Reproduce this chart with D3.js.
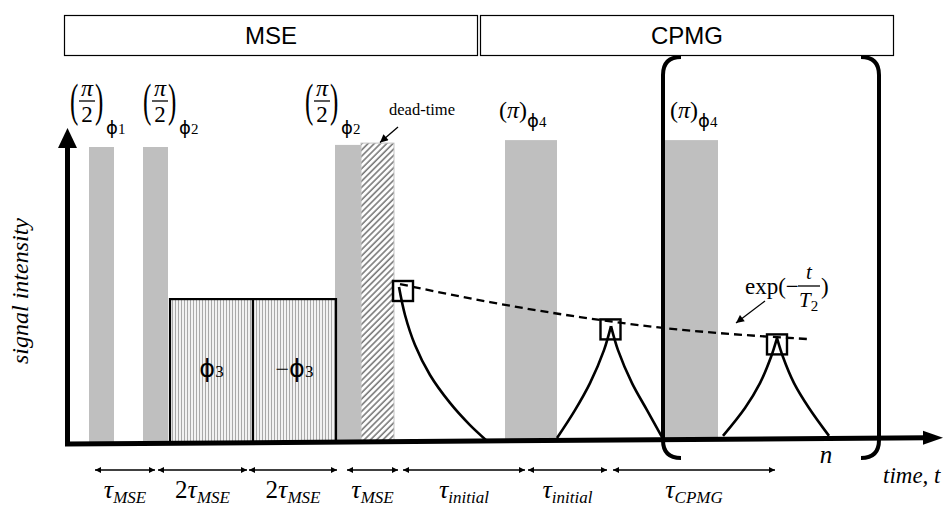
<!DOCTYPE html>
<html><head><meta charset="utf-8">
<script src="https://cdn.jsdelivr.net/npm/d3@7"></script>
<style>html,body{margin:0;padding:0;background:#fff;} svg{display:block;}</style>
</head><body>
<svg id="c" width="946" height="509"></svg>
<script>
// ================= DATA (time in arbitrary units, intensity in %) =================
const phaseNames = ["MSE", "CPMG"];
const phaseStart = [-3, 413];
const phaseEnd   = [410, 826];

// RF pulses
const pulseKind  = ["half", "half", "half", "pi", "pi"];
const pulsePhase = ["1", "2", "2", "4", "4"];
const pulseStart = [22, 76, 268, 438, 598];
const pulseEnd   = [47, 101, 294, 490, 651];
const pulseAmp   = [99, 99, 99.7, 101.3, 101.3];

// phase-cycled blocks
const blockSign  = ["", "\u2212"];
const blockStart = [103, 186];
const blockEnd   = [186, 269];
const blockAmp   = [48.3, 48.3];

// dead time
const deadStart = 294, deadEnd = 327, deadAmp = 100.3;

// echo signal branches [t, intensity]
const echoBranches = [
  [[332, 52.3], [338, 43], [348, 33], [363, 23], [383, 13.7], [403, 6.3], [420, 1]],
  [[544, 39.3], [537, 31.3], [523, 20.3], [508, 11.3], [490, 2]],
  [[544, 39.3], [551, 31.3], [565, 20.3], [580, 11.3], [595, 2.3]],
  [[710, 35.3], [704, 29], [693, 20.3], [678, 12], [656, 2.7]],
  [[710, 35.3], [716, 29], [727, 20.3], [742, 12], [762, 2.7]]
];
const echoTops = [[336, 51], [543.5, 38.2], [710, 33.2]];
// T2 decay envelope
const decayT = [333, 423, 513, 596, 651, 740];
const decayV = [53.3, 47.3, 42.3, 38.7, 37, 35];

// timing intervals
const intervalStart = [28, 91, 182, 280, 336, 461, 546];
const intervalEnd   = [88, 180, 270, 331, 458, 540, 708];
const intervalCoef  = ["", "2", "2", "", "", "", ""];
const intervalSub   = ["MSE", "MSE", "MSE", "MSE", "initial", "initial", "CPMG"];

// CPMG loop
const loopStart = 596, loopEnd = 812, loopLabel = "n";

// ================= LAYOUT =================
const svg = d3.select("#c");
const x = d3.scaleLinear().domain([0, 874]).range([67, 941]);
const y = d3.scaleLinear().domain([0, 100]).range([444, 144]);
const drift = d3.scaleLinear().domain([0, 874]).range([0, 2.1]);
const base = t => y(drift(t));
const pulseLabelDx = [-19, 0, -30, -6, 5];
const SERIF = "'Liberation Serif','DejaVu Serif',serif";
const SANS = "'Liberation Sans',Arial,sans-serif";
const PHI = "'DejaVu Sans',sans-serif";
const GRAY = "#bfbfbf";

const defs = svg.append("defs");
const vh = defs.append("pattern").attr("id", "vh").attr("width", 3).attr("height", 10)
  .attr("patternUnits", "userSpaceOnUse");
vh.append("rect").attr("width", 3).attr("height", 10).attr("fill", "#fff");
vh.append("line").attr("x1", 1.5).attr("x2", 1.5).attr("y1", 0).attr("y2", 10)
  .attr("stroke", "#a9a9a9").attr("stroke-width", 1.3);
const dh = defs.append("pattern").attr("id", "dh").attr("width", 4.4).attr("height", 10)
  .attr("patternUnits", "userSpaceOnUse").attr("patternTransform", "rotate(45)");
dh.append("rect").attr("width", 4.4).attr("height", 10).attr("fill", "#fff");
dh.append("line").attr("x1", 1).attr("x2", 1).attr("y1", 0).attr("y2", 10)
  .attr("stroke", "#7a7a7a").attr("stroke-width", 1.6);
defs.append("marker").attr("id", "ah").attr("viewBox", "0 0 10 10").attr("refX", 10).attr("refY", 5)
  .attr("markerWidth", 7).attr("markerHeight", 6).attr("markerUnits", "userSpaceOnUse")
  .attr("orient", "auto-start-reverse")
  .append("path").attr("d", "M0,0 L10,5 L0,10 Z").attr("fill", "#000");
defs.append("marker").attr("id", "ah2").attr("viewBox", "0 0 10 10").attr("refX", 10).attr("refY", 5)
  .attr("markerWidth", 9).attr("markerHeight", 8).attr("markerUnits", "userSpaceOnUse")
  .attr("orient", "auto")
  .append("path").attr("d", "M0,0 L10,5 L0,10 Z").attr("fill", "#000");

// phase boxes
phaseNames.forEach((n, i) => {
  svg.append("rect").attr("x", x(phaseStart[i]) + 0.5).attr("y", 15.5)
    .attr("width", x(phaseEnd[i]) - x(phaseStart[i])).attr("height", 40)
    .attr("fill", "#fff").attr("stroke", "#000").attr("stroke-width", 1.2);
  svg.append("text").attr("x", (x(phaseStart[i]) + x(phaseEnd[i])) / 2 + 0.5).attr("y", 43.5)
    .attr("text-anchor", "middle").attr("font-family", SANS).attr("font-size", 24).text(n);
});

// pulses
pulseStart.forEach((s, i) => {
  svg.append("rect").attr("x", x(s)).attr("y", y(pulseAmp[i]))
    .attr("width", x(pulseEnd[i]) - x(s)).attr("height", base(s) - y(pulseAmp[i]))
    .attr("fill", GRAY);
});
// blocks
blockStart.forEach((s, i) => {
  svg.append("rect").attr("x", x(s)).attr("y", y(blockAmp[i]))
    .attr("width", x(blockEnd[i]) - x(s)).attr("height", base(s) - y(blockAmp[i]))
    .attr("fill", "url(#vh)").attr("stroke", "#000").attr("stroke-width", 2.2);
  const t = svg.append("text").attr("x", (x(s) + x(blockEnd[i])) / 2).attr("y", y(blockAmp[i] / 2) + 5)
    .attr("text-anchor", "middle").attr("font-family", SERIF);
  if (blockSign[i]) t.append("tspan").attr("font-size", 24).text(blockSign[i]);
  t.append("tspan").attr("font-family", PHI).attr("font-size", 24).text("\u03D5");
  t.append("tspan").attr("font-size", 17).text("3");
});
// dead time
svg.append("rect").attr("x", x(deadStart)).attr("y", y(deadAmp))
  .attr("width", x(deadEnd) - x(deadStart)).attr("height", base(deadStart) - y(deadAmp))
  .attr("fill", "url(#dh)").attr("stroke", "#c4c4c4").attr("stroke-width", 1);
svg.append("text").attr("x", 389).attr("y", 115).attr("font-family", SERIF).attr("font-size", 16.5).text("dead-time");
svg.append("line").attr("x1", 398).attr("y1", 127).attr("x2", 380).attr("y2", 142.5)
  .attr("stroke", "#000").attr("stroke-width", 1.3).attr("marker-end", "url(#ah2)");

// pulse labels
function parenText(g, px, txt) {
  g.append("text").attr("transform", `translate(${px},116) scale(1,1.9)`)
    .attr("font-family", SERIF).attr("font-size", 25).text(txt);
}
pulseStart.forEach((s, i) => {
  const L = x(s) + pulseLabelDx[i];
  const g = svg.append("g");
  if (pulseKind[i] === "half") {
    parenText(g, L, "(");
    g.append("text").attr("x", L + 17).attr("y", 96).attr("text-anchor", "middle")
      .attr("font-family", SERIF).attr("font-style", "italic").attr("font-size", 24).text("\u03C0");
    g.append("line").attr("x1", L + 9).attr("x2", L + 25).attr("y1", 101).attr("y2", 101)
      .attr("stroke", "#000").attr("stroke-width", 1.3);
    g.append("text").attr("x", L + 17).attr("y", 122).attr("text-anchor", "middle")
      .attr("font-family", SERIF).attr("font-size", 23).text("2");
    parenText(g, L + 25, ")");
    const sub = g.append("text").attr("x", L + 36).attr("y", 134).attr("font-family", SERIF);
    sub.append("tspan").attr("font-family", PHI).attr("font-size", 18).text("\u03D5");
    sub.append("tspan").attr("font-size", 15).text(pulsePhase[i]);
  } else {
    const t = g.append("text").attr("x", L).attr("y", 118).attr("font-family", SERIF);
    t.append("tspan").attr("font-size", 24).text("(");
    t.append("tspan").attr("font-size", 24).attr("font-style", "italic").text("\u03C0");
    t.append("tspan").attr("font-size", 24).text(")");
    t.append("tspan").attr("font-family", PHI).attr("font-size", 18).attr("dy", 9).text("\u03D5");
    t.append("tspan").attr("font-size", 15).text(pulsePhase[i]);
  }
});

// echoes
const echoLine = d3.line().x(d => x(d[0])).y(d => y(d[1])).curve(d3.curveCatmullRom.alpha(0.5));
echoBranches.forEach(b => {
  svg.append("path").attr("d", echoLine(b)).attr("fill", "none").attr("stroke", "#000").attr("stroke-width", 2.6);
});
echoTops.forEach(p => {
  svg.append("rect").attr("x", x(p[0]) - 10).attr("y", y(p[1]) - 10).attr("width", 20).attr("height", 20)
    .attr("fill", "none").attr("stroke", "#000").attr("stroke-width", 2.4);
});
const decayLine = d3.line().x((d, i) => x(decayT[i])).y((d, i) => y(decayV[i])).curve(d3.curveMonotoneX);
svg.append("path").attr("d", decayLine(decayT)).attr("fill", "none").attr("stroke", "#000")
  .attr("stroke-width", 2.3).attr("stroke-dasharray", "8,5");

// exp label
const eg = svg.append("g").attr("font-family", SERIF);
eg.append("text").attr("x", 745).attr("y", 294).attr("font-size", 23).text("exp(\u2212");
eg.append("text").attr("x", 809).attr("y", 279).attr("text-anchor", "middle").attr("font-size", 21)
  .attr("font-style", "italic").text("t");
eg.append("line").attr("x1", 798).attr("x2", 820).attr("y1", 286).attr("y2", 286).attr("stroke", "#000").attr("stroke-width", 1.3);
const T2 = eg.append("text").attr("x", 799).attr("y", 307).attr("font-size", 21);
T2.append("tspan").attr("font-style", "italic").text("T");
T2.append("tspan").attr("font-size", 15).attr("dy", 4).text("2");
eg.append("text").attr("x", 821).attr("y", 294).attr("font-size", 23).text(")");
svg.append("line").attr("x1", 765).attr("y1", 301).attr("x2", 736).attr("y2", 323)
  .attr("stroke", "#000").attr("stroke-width", 1.3).attr("marker-end", "url(#ah2)");

// axes
svg.append("path").attr("d", `M${x(0) + 0.5},146 L${x(0) + 0.5},${base(0)} L${x(860)},${base(860)}`)
  .attr("fill", "none").attr("stroke", "#000").attr("stroke-width", 5).attr("stroke-linejoin", "miter");
svg.append("path").attr("d", `M${x(0) + 0.5},128 L${x(0) - 9},148 L${x(0) + 10},148 Z`).attr("fill", "#000");
svg.append("path").attr("d", `M${x(876)},${base(876)} L${x(856)},${base(856) - 7} L${x(856)},${base(856) + 7} Z`).attr("fill", "#000");
svg.append("text").attr("transform", "translate(28,291) rotate(-90)").attr("text-anchor", "middle")
  .attr("font-family", SERIF).attr("font-style", "italic").attr("font-size", 24).text("signal intensity");
svg.append("text").attr("x", 883).attr("y", 483).attr("font-family", SERIF).attr("font-style", "italic")
  .attr("font-size", 23).text("time, t");

// CPMG loop brackets
const bt = y(129), bb = y(-4.7), r = 18;
const lx = x(loopStart), rx = x(loopEnd);
svg.append("path").attr("d", `M${lx + r},${bt} Q${lx},${bt} ${lx},${bt + r} L${lx},${bb - r} Q${lx},${bb} ${lx + r},${bb}`)
  .attr("fill", "none").attr("stroke", "#000").attr("stroke-width", 4);
svg.append("path").attr("d", `M${rx - r},${bt} Q${rx},${bt} ${rx},${bt + r} L${rx},${bb - r} Q${rx},${bb} ${rx - r},${bb}`)
  .attr("fill", "none").attr("stroke", "#000").attr("stroke-width", 4);
svg.append("text").attr("x", x(759)).attr("y", 463).attr("text-anchor", "middle").attr("font-family", SERIF)
  .attr("font-style", "italic").attr("font-size", 25).text(loopLabel);

// timing intervals
intervalStart.forEach((s, i) => {
  svg.append("line").attr("x1", x(s)).attr("x2", x(intervalEnd[i])).attr("y1", 470).attr("y2", 470)
    .attr("stroke", "#000").attr("stroke-width", 1.3)
    .attr("marker-start", "url(#ah)").attr("marker-end", "url(#ah)");
  const t = svg.append("text").attr("x", (x(s) + x(intervalEnd[i])) / 2).attr("y", 498)
    .attr("text-anchor", "middle").attr("font-family", SERIF);
  if (intervalCoef[i]) t.append("tspan").attr("font-size", 25).text(intervalCoef[i]);
  t.append("tspan").attr("font-size", 26).attr("font-style", "italic").text("\u03C4");
  t.append("tspan").attr("font-size", 17).attr("font-style", "italic").attr("dy", 5).text(intervalSub[i]);
});
</script>
</body></html>
